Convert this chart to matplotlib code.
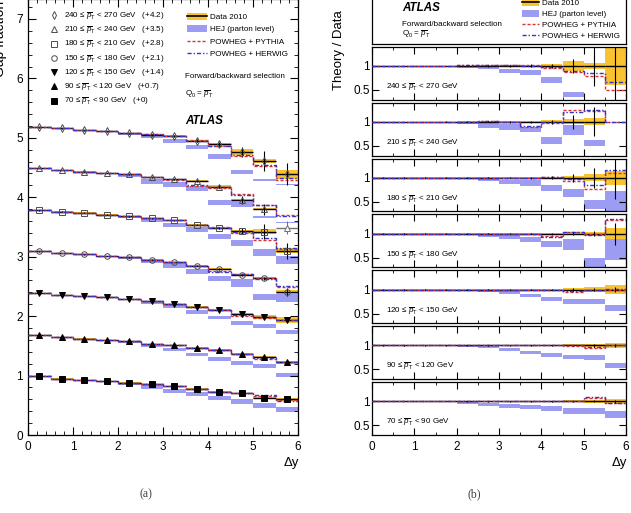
import numpy as np
import matplotlib

matplotlib.use("Agg")
import matplotlib.pyplot as plt  # noqa: E402
from matplotlib.lines import Line2D  # noqa: E402
from matplotlib.patches import Patch  # noqa: E402
from matplotlib.ticker import MultipleLocator, FixedLocator, NullLocator  # noqa: E402

plt.rcParams.update({
    "font.family": ["Liberation Sans", "DejaVu Sans"],
    "mathtext.fontset": "custom",
    "mathtext.rm": "Liberation Sans",
    "mathtext.it": "Liberation Sans:italic",
    "mathtext.bf": "Liberation Sans:bold",
    "xtick.direction": "in", "ytick.direction": "in",
    "xtick.top": True, "ytick.right": True,
    "axes.linewidth": 0.9,
})

nan = np.nan
W, H = 631, 513

# ---- data -----------------------------------------------------------------
DY_EDGES = [0.0, 0.5, 1.0, 1.5, 2.0, 2.5, 3.0, 3.5, 4.0, 4.5, 5.0, 5.5, 6.0]
PT_BINS = [(70, 90), (90, 120), (120, 150), (150, 180), (180, 210), (210, 240), (240, 270)]
OFFSETS = [0.0, 0.7, 1.4, 2.1, 2.8, 3.5, 4.2]
OFFSET_TXT = ["+0", "+0.7", "+1.4", "+2.1", "+2.8", "+3.5", "+4.2"]

# gap fraction, data 2010
GAP = [
    [0.99, 0.95, 0.92, 0.91, 0.88, 0.86, 0.82, 0.78, 0.73, 0.70, 0.62, 0.60],
    [0.98, 0.95, 0.92, 0.90, 0.88, 0.83, 0.81, 0.77, 0.73, 0.67, 0.61, 0.52],
    [0.99, 0.96, 0.94, 0.92, 0.89, 0.85, 0.80, 0.76, 0.71, 0.64, 0.58, 0.53],
    [0.99, 0.96, 0.94, 0.91, 0.89, 0.85, 0.81, 0.75, 0.69, 0.59, 0.54, 0.31],
    [0.98, 0.96, 0.94, 0.91, 0.88, 0.85, 0.81, 0.74, 0.68, 0.63, 0.62, 0.30],
    [0.99, 0.96, 0.93, 0.91, 0.89, 0.84, 0.80, 0.77, 0.68, 0.45, 0.30, nan],
    [0.98, 0.96, 0.93, 0.91, 0.88, 0.85, 0.83, 0.75, 0.69, 0.56, 0.41, 0.19],
]
# relative statistical error (error bars) and systematic half-width (yellow band)
STAT = [
    [0.003, 0.003, 0.003, 0.003, 0.004, 0.004, 0.005, 0.006, 0.008, 0.012, 0.018, 0.025],
    [0.003, 0.003, 0.003, 0.003, 0.004, 0.004, 0.005, 0.006, 0.009, 0.015, 0.025, 0.035],
    [0.003, 0.003, 0.003, 0.004, 0.004, 0.005, 0.006, 0.008, 0.012, 0.025, 0.04, 0.06],
    [0.004, 0.004, 0.004, 0.005, 0.006, 0.007, 0.009, 0.012, 0.02, 0.035, 0.045, 0.23],
    [0.005, 0.005, 0.005, 0.006, 0.007, 0.009, 0.012, 0.018, 0.03, 0.08, 0.21, 0.44],
    [0.006, 0.006, 0.006, 0.007, 0.008, 0.01, 0.015, 0.025, 0.045, 0.15, 0.30, nan],
    [0.008, 0.008, 0.008, 0.009, 0.01, 0.013, 0.02, 0.03, 0.05, 0.15, 0.42, 1.0],
]
SYS = [
    [0.004, 0.004, 0.004, 0.004, 0.005, 0.006, 0.007, 0.009, 0.012, 0.02, 0.03, 0.04],
    [0.004, 0.004, 0.004, 0.004, 0.005, 0.006, 0.007, 0.009, 0.012, 0.02, 0.03, 0.05],
    [0.004, 0.004, 0.004, 0.005, 0.005, 0.006, 0.008, 0.01, 0.015, 0.03, 0.06, 0.09],
    [0.004, 0.004, 0.004, 0.005, 0.006, 0.007, 0.009, 0.012, 0.018, 0.025, 0.04, 0.11],
    [0.005, 0.005, 0.005, 0.006, 0.007, 0.008, 0.01, 0.015, 0.02, 0.04, 0.07, 0.15],
    [0.005, 0.005, 0.005, 0.006, 0.007, 0.009, 0.012, 0.018, 0.03, 0.05, 0.07, nan],
    [0.005, 0.005, 0.006, 0.007, 0.008, 0.01, 0.012, 0.02, 0.035, 0.10, 0.07, 0.40],
]
# theory / data
HEJ_R = [
    [1.0, 1.0, 0.99, 0.99, 0.97, 0.94, 0.90, 0.88, 0.85, 0.80, 0.80, 0.72],
    [1.0, 1.0, 0.99, 0.99, 0.98, 0.97, 0.91, 0.85, 0.80, 0.76, 0.75, 0.59],
    [1.0, 1.0, 0.99, 0.99, 0.98, 0.97, 0.95, 0.88, 0.81, 0.75, 0.75, 0.62],
    [1.0, 1.0, 0.99, 0.99, 0.98, 0.96, 0.93, 0.87, 0.78, 0.77, 0.40, 0.68],
    [1.0, 1.0, 1.0, 0.99, 0.98, 0.96, 0.91, 0.89, 0.79, 0.68, 0.44, 0.50],
    [1.0, 1.0, 0.99, 0.99, 0.97, 0.92, 0.89, 0.84, 0.61, 0.83, 0.56, nan],
    [1.0, 1.0, 1.0, 0.99, 0.98, 0.96, 0.90, 0.86, 0.71, 0.41, 0.22, 0.10],
]
HEJ_W = [
    [0.004, 0.004, 0.006, 0.008, 0.02, 0.035, 0.04, 0.045, 0.05, 0.06, 0.065, 0.075],
    [0.004, 0.004, 0.005, 0.008, 0.01, 0.025, 0.035, 0.035, 0.045, 0.045, 0.055, 0.055],
    [0.004, 0.004, 0.005, 0.008, 0.01, 0.02, 0.035, 0.035, 0.04, 0.055, 0.055, 0.065],
    [0.004, 0.004, 0.005, 0.008, 0.015, 0.03, 0.045, 0.05, 0.065, 0.115, 0.09, 0.22],
    [0.004, 0.004, 0.005, 0.008, 0.015, 0.035, 0.04, 0.055, 0.06, 0.085, 0.09, 0.22],
    [0.004, 0.004, 0.008, 0.01, 0.02, 0.05, 0.055, 0.06, 0.07, 0.095, 0.07, nan],
    [0.004, 0.004, 0.005, 0.008, 0.02, 0.03, 0.045, 0.055, 0.065, 0.055, 0.05, 0.05],
]
PYTHIA_R = [
    [1, 1, 1, 1, 1, 1, 1, 1, 1, 1.0, 1.07, 0.97],
    [1, 1, 1, 1, 1, 1, 1, 1, 1, 0.99, 0.95, 1.01],
    [1, 1, 1, 1, 1, 1, 1, 1, 1.0, 0.94, 0.98, 1.0],
    [1, 1, 1, 1, 1, 1, 1, 0.99, 0.95, 1.03, 0.99, 1.28],
    [1, 1, 1, 1, 1, 1, 1, 1, 1.02, 0.94, 0.77, 1.09],
    [1, 1, 1, 1, 1, 1.01, 0.99, 0.90, 0.97, 1.24, 1.22, 1.0],
    [1, 1, 1, 1, 1.01, 1.01, 1.01, 1.01, 0.96, 0.87, 0.79, 0.50],
]
HERWIG_R = [
    [1, 1, 1, 1, 1, 1, 1, 1, 1, 1.0, 1.09, 0.96],
    [1, 1, 1, 1, 1, 1, 1, 1, 1, 1.0, 0.97, 1.01],
    [1, 1, 1, 1, 1, 1, 1, 1, 1.0, 0.96, 1.0, 1.01],
    [1, 1, 1, 1, 1, 1, 1, 1.0, 0.94, 1.03, 0.98, 1.30],
    [1, 1, 1, 1, 1, 1, 1, 1, 1.01, 0.97, 0.84, 1.16],
    [1, 1, 1, 1, 1, 1.01, 1.0, 0.92, 0.99, 1.21, 1.24, 1.0],
    [1, 1, 1, 1, 1.01, 1.01, 1.01, 1.0, 0.97, 0.90, 0.85, 0.67],
]
# 210-240 GeV, last dy bin: grey point, no ratio; model values
LAST_210 = {"data": -0.01, "err": 0.11, "hej": 0.07, "hej_w": 0.01,
            "pythia": 0.20, "herwig": 0.19}

MARKERS = [("s", True), ("^", True), ("v", True), ("o", False),
           ("s", False), ("^", False), ("d", False)]

YEL = "#f8c230"
HEJ_C = "#9c9cf2"
RED = "#e0322c"
BLUE = "#3535c8"
LS_PY = (0, (2.2, 1.4))
LS_HW = (0, (3.0, 1.4, 1.0, 1.4))
SMALL = 5.8

edges = np.array(DY_EDGES)
lo, hi = edges[:-1], edges[1:]
centers = 0.5 * (lo + hi)
widths = hi - lo


def fbox(x0, y0, x1, y1):
    return [x0 / W, 1 - y1 / H, (x1 - x0) / W, (y1 - y0) / H]


def fx(px):
    return px / W


def fy(py):
    return 1 - py / H


def ptlabel(a, b):
    return f"{a} \u2264 " + r"$\overline{p}_{\mathrm{T}}$" + f" < {b} GeV"


def band(ax, center, half, color, z):
    c, h = np.asarray(center, float), np.asarray(half, float)
    m = np.isfinite(c) & np.isfinite(h)
    ax.bar(centers[m], 2 * h[m], bottom=c[m] - h[m], width=widths[m],
           color=color, lw=0, zorder=z)


fig = plt.figure(figsize=(W / 100, H / 100), dpi=100)

# ---- (a) gap fraction ------------------------------------------------------
axl = fig.add_axes(fbox(28, -1, 298, 435))
for i, (a, b) in enumerate(PT_BINS):
    d = np.array(GAP[i], float)
    off = OFFSETS[i]
    hej = np.array(HEJ_R[i], float) * d
    hejw = np.array(HEJ_W[i], float) * d
    py = np.array(PYTHIA_R[i], float) * d
    hw = np.array(HERWIG_R[i], float) * d
    if (a, b) == (210, 240):
        hej[-1], hejw[-1] = LAST_210["hej"], LAST_210["hej_w"]
        py[-1], hw[-1] = LAST_210["pythia"], LAST_210["herwig"]
    band(axl, hej + off, hejw, HEJ_C, 1)
    band(axl, d + off, np.array(SYS[i]) * d, YEL, 2)
    axl.hlines(d + off, lo, hi, color="black", lw=1.0, zorder=3)
    axl.stairs(py + off, edges, baseline=None, color=RED, ls=LS_PY, lw=1.0, zorder=4)
    axl.stairs(hw + off, edges, baseline=None, color=BLUE, ls=LS_HW, lw=1.0, zorder=4)
    axl.errorbar(centers, d + off, yerr=np.array(STAT[i]) * d, fmt="none",
                 ecolor="black", elinewidth=0.8, zorder=5)
    m, filled = MARKERS[i]
    axl.plot(centers, d + off, ls="none", marker=m, ms=4 if m != "d" else 4.2,
             mfc="black" if filled else "none", mec="black" if filled else "0.3",
             mew=0.7, zorder=6)
    if (a, b) == (210, 240):
        axl.hlines(LAST_210["data"] + off, lo[-1:], hi[-1:], color="0.45", lw=1.0, zorder=3)
        axl.errorbar(centers[-1:], [LAST_210["data"] + off], yerr=[LAST_210["err"]],
                     fmt="none", ecolor="0.45", elinewidth=0.8, zorder=5)
        axl.plot(centers[-1:], [LAST_210["data"] + off], ls="none", marker=m, ms=4,
                 mfc="white", mec="0.45", mew=0.7, zorder=6)

axl.set_xlim(0, 6)
axl.set_ylim(0, 7.336)
axl.xaxis.set_major_locator(MultipleLocator(1))
axl.xaxis.set_minor_locator(MultipleLocator(0.2))
axl.yaxis.set_major_locator(MultipleLocator(1))
axl.yaxis.set_minor_locator(MultipleLocator(0.2))
axl.tick_params(which="major", length=6, width=0.8, labelsize=8.5)
axl.tick_params(which="minor", length=3, width=0.6)
axl.tick_params(axis="x", pad=4.5)

# marker legend
mk_handles, mk_labels = [], []
for i in reversed(range(len(PT_BINS))):
    m, filled = MARKERS[i]
    mk_handles.append(Line2D([], [], ls="none", marker=m, ms=4,
                             mfc="black" if filled else "none",
                             mec="black" if filled else "0.3", mew=0.7))
    a, b = PT_BINS[i]
    mk_labels.append(ptlabel(a, b) + f"   ({OFFSET_TXT[i]})")
fig.legend(mk_handles, mk_labels, loc="upper left", bbox_to_anchor=(fx(49), fy(10)),
           frameon=False, fontsize=SMALL, handlelength=1.2, handletextpad=0.7,
           labelspacing=0.28, borderpad=0, borderaxespad=0)

model_handles = [(Patch(facecolor=YEL, lw=0), Line2D([], [], color="black", lw=1.2)),
                 Patch(facecolor=HEJ_C, lw=0),
                 Line2D([], [], color=RED, ls=LS_PY, lw=1.0),
                 Line2D([], [], color=BLUE, ls=LS_HW, lw=1.0)]
model_labels = ["Data 2010", "HEJ (parton level)", "POWHEG + PYTHIA", "POWHEG + HERWIG"]
fig.legend(model_handles, model_labels, loc="upper left", bbox_to_anchor=(fx(187), fy(13)),
           frameon=False, fontsize=SMALL, handlelength=2.5, handleheight=0.9,
           handletextpad=0.3, labelspacing=0.52, borderpad=0, borderaxespad=0)
fig.text(fx(185), fy(77), "Forward/backward selection", fontsize=SMALL, va="center")
fig.text(fx(185), fy(94), r"Q$_0$ = $\overline{p}_{\mathrm{T}}$", fontsize=SMALL, va="center")
fig.text(fx(185), fy(121), "ATLAS", fontsize=8.4, weight="bold", style="italic", va="center")

fig.text(0.0, fy(77), "Gap fraction", rotation=90, ha="center", va="bottom", fontsize=10)
fig.text(fx(291), fy(463), "\u0394y", ha="center", va="center", fontsize=9.5)
fig.text(fx(146), fy(494), "(a)", ha="center", va="center", fontsize=8.5,
         family="Liberation Serif", color="0.25")

# ---- (b) theory / data -----------------------------------------------------
axt = fig.add_axes(fbox(372, -20, 626, 43.5))
axt.set_xticks([])
axt.set_yticks([])
fig.text(fx(402), fy(8), "ATLAS", fontsize=8.4, weight="bold", style="italic", va="center")
fig.text(fx(402), fy(24), "Forward/backward selection", fontsize=SMALL, va="center")
fig.text(fx(402), fy(34), r"Q$_0$ = $\overline{p}_{\mathrm{T}}$", fontsize=SMALL, va="center")
fig.legend(model_handles, model_labels, loc="upper left", bbox_to_anchor=(fx(522), fy(-1)),
           frameon=False, fontsize=SMALL, handlelength=2.1, handleheight=0.9,
           handletextpad=0.4, labelspacing=0.36, borderpad=0, borderaxespad=0)

top0, step, ph = 46.7, 55.9, 52.9
for k in range(7):
    i = 6 - k
    t = top0 + k * step
    ax = fig.add_axes(fbox(372, t, 626, t + ph))
    d = np.array(GAP[i], float)
    band(ax, HEJ_R[i], HEJ_W[i], HEJ_C, 1)
    band(ax, d / d, SYS[i], YEL, 2)
    ax.hlines(d / d, lo, hi, color="black", lw=1.0, zorder=3)
    ax.stairs(PYTHIA_R[i], edges, baseline=None, color=RED, ls=LS_PY, lw=1.0, zorder=4)
    ax.stairs(HERWIG_R[i], edges, baseline=None, color=BLUE, ls=LS_HW, lw=1.0, zorder=4)
    ax.errorbar(centers, d / d, yerr=STAT[i], fmt="none", ecolor="black",
                elinewidth=0.8, zorder=5)
    ax.set_xlim(0, 6)
    ax.set_ylim(0.3, 1.4)
    ax.xaxis.set_major_locator(MultipleLocator(1))
    ax.xaxis.set_minor_locator(MultipleLocator(0.5))
    ax.yaxis.set_major_locator(FixedLocator([0.5, 1.0]))
    ax.yaxis.set_minor_locator(NullLocator())
    ax.set_yticklabels(["0.5", "1"])
    ax.tick_params(which="major", length=5, width=0.8, labelsize=8.5)
    ax.tick_params(which="minor", length=2.5, width=0.6)
    ax.tick_params(axis="y", pad=1.5)
    ax.tick_params(axis="x", pad=4.5)
    if k < 6:
        ax.tick_params(axis="x", labelbottom=False)
    a, b = PT_BINS[i]
    ax.text(0.055, 0.23, ptlabel(a, b), transform=ax.transAxes, fontsize=SMALL, va="center")

fig.text(fx(339), fy(50), "Theory / Data", rotation=90, ha="center", va="center", fontsize=9.5)
fig.text(fx(619), fy(463), "\u0394y", ha="center", va="center", fontsize=9.5)
fig.text(fx(474), fy(494), "(b)", ha="center", va="center", fontsize=8.5,
         family="Liberation Serif", color="0.25")

fig.savefig("out.png", dpi=100)
